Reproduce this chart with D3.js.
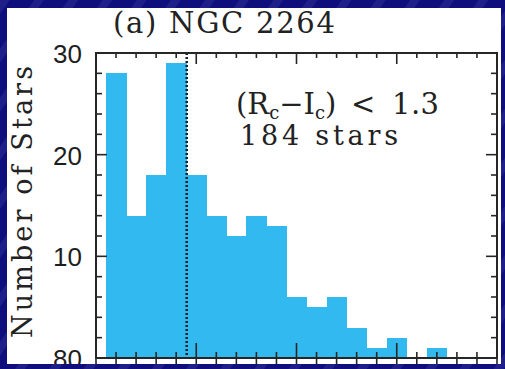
<!DOCTYPE html>
<html>
<head>
<meta charset="utf-8">
<script src="https://cdn.jsdelivr.net/npm/d3@7"></script>
<style>
  html, body { margin: 0; padding: 0; background: #10107e; }
  svg { display: block; }
</style>
</head>
<body>
<svg id="chart" width="505" height="369"></svg>
<script>
// ---------------- data ----------------
const binStarts = [0.5, 1.5, 2.5, 3.5, 4.5, 5.5, 6.5, 7.5, 8.5, 9.5, 10.5, 11.5, 12.5, 13.5, 14.5, 15.5, 16.5];
const counts    = [28, 14, 18, 29, 18, 14, 12, 14, 13, 6, 5, 6, 3, 1, 2, 0, 1];
const binWidth = 1;
const threshold = 4.5;
const yTickValues = [0, 10, 20, 30];
const yTickLabels = ["80", "10", "20", "30"];
const xDomain = [0, 20];
const yDomain = [0, 30];
const titleText = "(a) NGC 2264";
const yTitle = "Number of Stars";
const countLabel = "184 stars";
const limitValue = "1.3";

// ---------------- drawing ----------------
const svg = d3.select("#chart");
const W = 505, H = 369;
const defs = svg.append("defs");

const pat = defs.append("pattern").attr("id", "stripes")
  .attr("patternUnits", "userSpaceOnUse").attr("width", 28).attr("height", 28)
  .attr("patternTransform", "rotate(35)");
pat.append("rect").attr("width", 28).attr("height", 28).attr("fill", "#0e0e7c");
pat.append("rect").attr("width", 8).attr("height", 28).attr("fill", "#1f1f8a");

svg.append("rect").attr("width", W).attr("height", H).attr("fill", "url(#stripes)");

const panel = {x: 7, y: 8, w: 494, h: 356};
defs.append("clipPath").attr("id", "panelClip").append("rect")
  .attr("x", panel.x).attr("y", panel.y).attr("width", panel.w).attr("height", panel.h);
svg.append("rect").attr("x", panel.x).attr("y", panel.y).attr("width", panel.w).attr("height", panel.h)
  .attr("fill", "#ffffff");

const g = svg.append("g").attr("clip-path", "url(#panelClip)");

const x = d3.scaleLinear().domain(xDomain).range([96, 497]);
const y = d3.scaleLinear().domain(yDomain).range([358, 53]);
const axisColor = "#262626";
const barColor = "#32b9ef";

// bars
g.selectAll("rect.bar").data(binStarts.map((s, i) => ({s, v: counts[i]})))
  .join("rect").attr("class", "bar")
  .attr("x", d => x(d.s))
  .attr("width", d => x(d.s + binWidth) - x(d.s) + 0.6)
  .attr("y", d => y(d.v))
  .attr("height", d => y(0) - y(d.v))
  .attr("fill", barColor)
  .attr("shape-rendering", "crispEdges");

// dotted threshold line
g.append("line")
  .attr("x1", x(threshold) + 0.5).attr("x2", x(threshold) + 0.5)
  .attr("y1", y(yDomain[1])).attr("y2", y(0))
  .attr("stroke", "#14202c").attr("stroke-width", 2.5)
  .attr("stroke-dasharray", "2,2");

// x ticks (every 1 unit, major every 5)
const xt = d3.range(xDomain[0], xDomain[1] + 1, 1);
g.selectAll("line.xb").data(xt).join("line").attr("class", "xb")
  .attr("x1", d => x(d)).attr("x2", d => x(d))
  .attr("y1", d => y(0) - (d % 5 === 0 ? 15 : 6))
  .attr("y2", y(0) + 7)
  .attr("stroke", axisColor).attr("stroke-width", 1.6);
g.selectAll("line.xt").data(xt).join("line").attr("class", "xt")
  .attr("x1", d => x(d)).attr("x2", d => x(d))
  .attr("y1", y(yDomain[1]))
  .attr("y2", d => y(yDomain[1]) + (d % 5 === 0 ? 11 : 5))
  .attr("stroke", axisColor).attr("stroke-width", 1.6);

// y ticks (every 2, major every 10), left and right inward
const yt = d3.range(yDomain[0], yDomain[1] + 1, 2).concat([10, 30]).filter((v, i, a) => a.indexOf(v) === i);
g.selectAll("line.yl").data(yt).join("line").attr("class", "yl")
  .attr("x1", x(xDomain[0])).attr("x2", d => x(xDomain[0]) + (d % 10 === 0 ? 11 : 6))
  .attr("y1", d => y(d)).attr("y2", d => y(d))
  .attr("stroke", axisColor).attr("stroke-width", 1.6);
g.selectAll("line.yr").data(yt).join("line").attr("class", "yr")
  .attr("x1", x(xDomain[1])).attr("x2", d => x(xDomain[1]) - (d % 10 === 0 ? 11 : 6))
  .attr("y1", d => y(d)).attr("y2", d => y(d))
  .attr("stroke", axisColor).attr("stroke-width", 1.6);

// frame
g.append("rect")
  .attr("x", x(xDomain[0])).attr("y", y(yDomain[1]))
  .attr("width", x(xDomain[1]) - x(xDomain[0]))
  .attr("height", y(0) - y(yDomain[1]))
  .attr("fill", "none").attr("stroke", axisColor).attr("stroke-width", 2);

// y tick labels
g.selectAll("text.yl").data(yTickValues).join("text").attr("class", "yl")
  .attr("x", 82).attr("y", d => y(d) + 10)
  .attr("text-anchor", "end")
  .attr("font-family", "Liberation Sans, Arial, sans-serif")
  .attr("font-size", 26).attr("fill", "#1e1e1e")
  .text((d, i) => yTickLabels[i]);

const serif = "DejaVu Serif, serif";
const txtColor = "#222";

// y title
g.append("text")
  .attr("transform", "translate(32," + 202 + ") rotate(-90)")
  .attr("text-anchor", "middle")
  .attr("font-family", serif).attr("font-size", 27).attr("fill", txtColor)
  .attr("textLength", 272).attr("lengthAdjust", "spacing")
  .text(yTitle);

// title
g.append("text")
  .attr("x", 113).attr("y", 33)
  .attr("font-family", serif).attr("font-size", 29).attr("fill", txtColor)
  .attr("textLength", 222).attr("lengthAdjust", "spacing")
  .text(titleText);

// color annotation
const ann = g.append("text")
  .attr("x", 236).attr("y", 114)
  .attr("font-family", serif).attr("font-size", 29).attr("fill", txtColor);
ann.append("tspan").text("(R");
ann.append("tspan").attr("font-size", 18).attr("dy", 5).text("c");
ann.append("tspan").attr("dy", -5).text("\u2212I");
ann.append("tspan").attr("font-size", 18).attr("dy", 5).text("c");
ann.append("tspan").attr("dy", -5).text(")");

g.append("text")
  .attr("x", 351).attr("y", 114)
  .attr("font-family", serif).attr("font-size", 29).attr("fill", txtColor)
  .text("<");
g.append("text")
  .attr("x", 392).attr("y", 114)
  .attr("font-family", serif).attr("font-size", 29).attr("fill", txtColor)
  .attr("textLength", 47).attr("lengthAdjust", "spacing")
  .text(limitValue);

g.append("text")
  .attr("x", 240).attr("y", 145)
  .attr("font-family", serif).attr("font-size", 27).attr("fill", txtColor)
  .attr("textLength", 158).attr("lengthAdjust", "spacing")
  .text(countLabel);
</script>
</body>
</html>
